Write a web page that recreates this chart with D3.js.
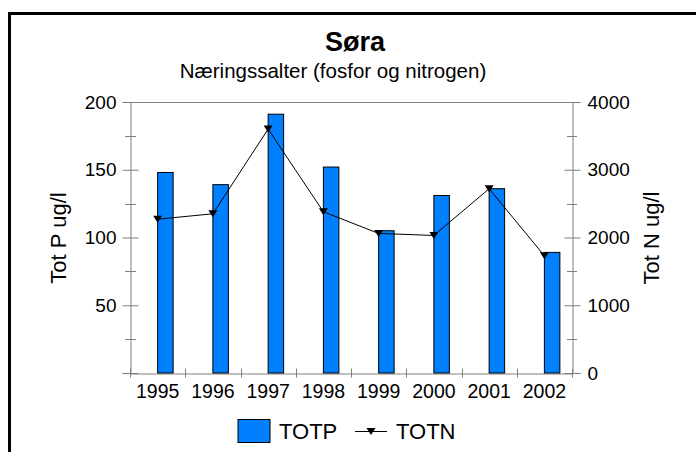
<!DOCTYPE html>
<html><head><meta charset="utf-8">
<script src="https://cdn.jsdelivr.net/npm/d3@7"></script>
<style>body{margin:0;background:#fff}svg{display:block}text{font-family:"Liberation Sans",Arial,sans-serif}</style>
</head><body><svg id="c" width="696" height="452"></svg>
<script>
const years = ["1995","1996","1997","1998","1999","2000","2001","2002"];
const totp = [148, 139, 191, 152, 105, 131, 136, 89];
const totn = [2270, 2350, 3600, 2380, 2060, 2030, 2720, 1730];
const leftTicks = [0, 50, 100, 150, 200];
const rightTicks = [0, 1000, 2000, 3000, 4000];
const title = "Søra";
const subtitle = "Næringssalter (fosfor og nitrogen)";

const FF = "'Liberation Sans', Arial, sans-serif";
const svg = d3.select("#c");
const L = 130, R = 572, T = 102, B = 373;
const x = d3.scaleBand().domain(years).range([L, R]).padding(0);
const yL = d3.scaleLinear().domain([0, 200]).range([B, T]);
const yR = d3.scaleLinear().domain([0, 4000]).range([B, T]);
const grey = "#808080";

// outer frame
svg.append("line").attr("x1", 9.5).attr("x2", 9.5).attr("y1", 12).attr("y2", 452).attr("stroke", "#000").attr("stroke-width", 3);
svg.append("line").attr("x1", 8).attr("x2", 696).attr("y1", 13.5).attr("y2", 13.5).attr("stroke", "#000").attr("stroke-width", 3);

// titles
svg.append("text").attr("x", 355).attr("y", 51).attr("text-anchor", "middle").attr("font-size", 27).attr("font-weight", "bold").text(title);
svg.append("text").attr("x", 333).attr("y", 78).attr("text-anchor", "middle").attr("font-size", 20.5).text(subtitle);

// plot box top
svg.append("line").attr("x1", L).attr("x2", R).attr("y1", T + 0.5).attr("y2", T + 0.5).attr("stroke", grey);

// minor ticks
const minorL = d3.range(25, 200, 50);
svg.append("g").selectAll("line").data(minorL).join("line")
  .attr("x1", L - 5).attr("x2", L + 6).attr("y1", d => Math.round(yL(d)) + 0.5).attr("y2", d => Math.round(yL(d)) + 0.5).attr("stroke", grey);
svg.append("g").selectAll("line").data(minorL).join("line")
  .attr("x1", R - 5).attr("x2", R + 5).attr("y1", d => Math.round(yL(d)) + 0.5).attr("y2", d => Math.round(yL(d)) + 0.5).attr("stroke", grey);

// left axis
const gL = svg.append("g").attr("transform", `translate(${L + 0.5},0)`)
  .call(d3.axisLeft(yL).tickValues(leftTicks).tickSize(8).tickPadding(6).tickFormat(d => d === 0 ? "" : String(d)));
gL.select(".domain").attr("stroke", grey);
gL.selectAll(".tick line").attr("stroke", grey).attr("x1", 8);
gL.selectAll(".tick text").attr("font-size", 19).attr("font-family", FF).attr("fill", "#000").attr("x", -14);

// right axis
const gR = svg.append("g").attr("transform", `translate(${R + 0.5},0)`)
  .call(d3.axisRight(yR).tickValues(rightTicks).tickSize(8).tickPadding(6).tickFormat(d => String(d)));
gR.select(".domain").attr("stroke", grey);
gR.selectAll(".tick line").attr("stroke", grey).attr("x1", -8);
gR.selectAll(".tick text").attr("font-size", 19).attr("font-family", FF).attr("fill", "#000").attr("x", 15);

// bottom axis
const gB = svg.append("g").attr("transform", `translate(0,${B + 0.5})`)
  .call(d3.axisBottom(x).tickSize(0).tickPadding(6));
gB.select(".domain").attr("stroke", grey);
gB.selectAll(".tick text").attr("font-size", 19.5).attr("font-family", FF).attr("fill", "#000").attr("dy", "0.95em");
const bounds = years.map(d => x(d)).concat([R]);
svg.append("g").selectAll("line").data(bounds).join("line")
  .attr("x1", d => Math.round(d) + 0.5).attr("x2", d => Math.round(d) + 0.5).attr("y1", B - 4.5).attr("y2", B + 4.5).attr("stroke", grey);

// bars
const bw = 15.5;
svg.append("g").selectAll("rect").data(years).join("rect")
  .attr("x", (d) => x(d) + x.bandwidth() / 2)
  .attr("y", (d, i) => yL(totp[i]))
  .attr("width", bw)
  .attr("height", (d, i) => B - yL(totp[i]))
  .attr("fill", "#0080ff").attr("stroke", "#000").attr("stroke-width", 1);

// line
const line = d3.line().x((d, i) => x(years[i]) + x.bandwidth() / 2).y(d => yR(d));
svg.append("path").datum(totn).attr("d", line).attr("fill", "none").attr("stroke", "#000").attr("stroke-width", 1);
const tri = "M-4.5,-3.5L4.5,-3.5L0,3.5Z";
svg.append("g").selectAll("path").data(totn).join("path")
  .attr("transform", (d, i) => `translate(${x(years[i]) + x.bandwidth() / 2},${yR(d)})`)
  .attr("d", tri).attr("fill", "#000");

// axis titles
svg.append("text").attr("transform", "translate(66,238) rotate(-90)").attr("text-anchor", "middle").attr("font-size", 22).text("Tot P ug/l");
svg.append("text").attr("transform", "translate(659,238) rotate(-90)").attr("text-anchor", "middle").attr("font-size", 22).text("Tot N ug/l");

// legend
svg.append("rect").attr("x", 238).attr("y", 419.5).attr("width", 32).attr("height", 23).attr("fill", "#0080ff").attr("stroke", "#000");
svg.append("text").attr("x", 279).attr("y", 439).attr("font-size", 22).text("TOTP");
svg.append("line").attr("x1", 355).attr("x2", 387).attr("y1", 431.5).attr("y2", 431.5).attr("stroke", "#000");
svg.append("path").attr("transform", "translate(371,431.5)").attr("d", tri).attr("fill", "#000");
svg.append("text").attr("x", 396).attr("y", 439).attr("font-size", 22).text("TOTN");
</script></body></html>
